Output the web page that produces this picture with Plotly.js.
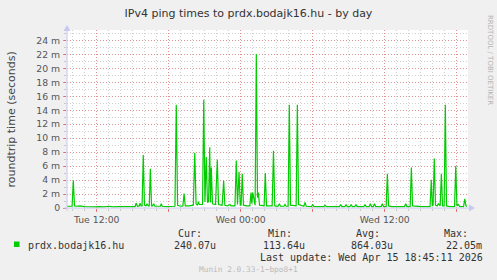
<!DOCTYPE html>
<html>
<head>
<meta charset="utf-8">
<script src="https://cdn.plot.ly/plotly-3.0.1.min.js"></script>
<style>html,body{margin:0;padding:0;background:#F0F0F0;}#chart{width:497px;height:280px;}</style>
</head>
<body>
<div id="chart"></div>
<script>
// time in hours since Tue 00:00, values in milliseconds
const times = [
  9.53, 9.8, 9.95, 10.05, 10.15, 10.3,
  10.6, 11.0, 11.4, 11.8, 12.2, 12.6, 13.0, 13.4, 13.8, 14.2, 14.6, 15.0,
  15.2, 15.28, 15.4, 15.55, 15.61, 15.7, 15.78, 15.88, 15.98, 16.1, 16.19, 16.3,
  16.38, 16.47, 16.57, 16.65, 16.75, 16.85, 17.1, 17.3, 17.38, 17.46, 17.8, 18.2,
  18.52, 18.63, 18.74, 19.0, 19.18, 19.28, 19.38, 19.7, 20.05, 20.17, 20.28,
  20.4, 20.47, 20.55, 20.82, 20.92, 21.02, 21.13, 21.23, 21.32, 21.42, 21.48, 21.55, 21.65,
  21.9, 22.05, 22.15, 22.45, 22.58, 22.68, 22.9, 23.11, 23.2,
  23.52, 23.63, 23.73, 23.86, 23.96, 24.03, 24.13, 24.23, 24.5,
  24.76, 24.86, 24.93, 25.0, 25.2, 25.3, 25.4, 25.47, 25.57, 25.95, 26.05, 26.15,
  26.62, 26.73, 26.84, 27.1, 27.22, 27.32, 27.6, 27.69, 27.78, 27.95, 28.05, 28.15,
  28.62, 28.72, 28.82, 29.26, 29.36, 29.46, 29.9, 30.0, 30.1, 30.5,
  30.93, 31.03, 31.13, 31.6, 32.0, 32.23, 32.33, 32.43, 32.68, 32.78, 32.88,
  33.1, 33.2, 33.3, 33.5, 33.6, 33.7, 34.0, 34.26, 34.36, 34.46, 34.7, 34.8, 34.9, 35.05, 35.15, 35.25,
  35.7, 35.8, 35.9, 36.12, 36.22, 36.32, 36.6, 37.0, 37.4, 37.65, 37.75, 37.85,
  38.12, 38.22, 38.32, 38.7, 39.1, 39.5, 39.78, 39.88, 39.96, 40.03, 40.13, 40.23,
  40.37, 40.47, 40.57, 40.62, 40.72, 40.82, 40.95, 41.05, 41.15, 41.4,
  41.82, 41.92, 42.02, 42.13, 42.25, 42.57, 42.67, 42.77, 42.86
];
const pingMs = [
  0.25, 0.2, 0.25, 3.95, 0.3, 0.25,
  0.3, 0.2, 0.15, 0.15, 0.2, 0.15, 0.25, 0.15, 0.2, 0.2, 0.15, 0.2,
  0.2, 0.7, 0.25, 0.3, 0.7, 0.3, 0.3, 7.6, 0.4, 0.3, 0.6, 0.3,
  0.3, 5.6, 0.3, 0.3, 0.6, 0.25, 0.2, 0.25, 0.6, 0.25, 0.2, 0.2,
  0.25, 14.8, 0.4, 0.25, 0.3, 2.05, 0.3, 0.3, 0.4, 7.9, 0.6,
  0.4, 0.9, 0.5, 0.5, 15.5, 0.9, 7.3, 0.8, 0.9, 8.7, 0.8, 5.8, 0.6,
  0.5, 6.9, 0.5, 0.4, 3.9, 0.4, 0.3, 0.5, 0.3,
  0.3, 6.8, 0.5, 5.2, 0.4, 0.4, 4.9, 0.4, 0.3,
  0.3, 2.2, 0.6, 2.2, 0.4, 22.05, 1.5, 2.2, 0.4, 0.3, 5.0, 0.3,
  0.3, 8.2, 0.3, 0.25, 0.6, 0.25, 0.25, 0.5, 0.25, 0.25, 14.8, 0.4,
  0.3, 14.8, 0.5, 0.25, 0.8, 0.25, 0.2, 0.5, 0.2, 0.2,
  0.2, 0.4, 0.2, 0.2, 0.2, 0.2, 0.5, 0.2, 0.2, 0.5, 0.2,
  0.2, 0.5, 0.2, 0.2, 0.5, 0.2, 0.2, 0.2, 0.5, 0.2, 0.2, 0.6, 0.2, 0.2, 0.6, 0.2,
  0.2, 0.6, 0.2, 0.2, 4.9, 0.3, 0.2, 0.2, 0.2, 0.2, 0.6, 0.2,
  0.2, 5.8, 0.3, 0.2, 0.2, 0.2, 0.2, 4.05, 0.3, 0.4, 7.1, 0.4,
  0.3, 0.6, 0.3, 0.3, 4.9, 0.3, 0.3, 14.8, 0.3, 0.2,
  0.2, 6.0, 0.3, 0.5, 0.2, 0.2, 1.3, 0.3, 0.24
];
const xTickVals = [12, 18, 24, 30, 36, 42];
const xTickText = ['Tue 12:00', '', 'Wed 00:00', '', 'Wed 12:00', ''];
const yTickVals = [0, 2, 4, 6, 8, 10, 12, 14, 16, 18, 20, 22, 24];
const yTickText = ['0', '2 m', '4 m', '6 m', '8 m', '10 m', '12 m', '14 m', '16 m', '18 m', '20 m', '22 m', '24 m'];
const seriesName = 'prdx.bodajk16.hu';
const statHeads = ['Cur:', 'Min:', 'Avg:', 'Max:'];
const statVals = ['240.07u', '113.64u', '864.03u', '22.05m'];
const lastUpdate = 'Last update: Wed Apr 15 18:45:11 2026';

const L = 67, R = 468, T = 30, B = 208;
const px = x => (x - L) / (R - L);
const py = y => (B - y) / (B - T);
const sans = 'DejaVu Sans';
const mono = 'DejaVu Sans Mono';
const axisCol = '#c8c8f0';
const majorGrid = 'rgba(255,0,0,0.3)';
const minorGrid = 'rgba(140,140,140,0.4)';

function txt(x, y, text, opts) {
  return Object.assign({xref: 'paper', yref: 'paper', x: px(x), y: py(y), text: text,
    showarrow: false, xanchor: 'left', yanchor: 'middle', borderpad: 0,
    font: {family: mono, size: 10, color: '#333'}}, opts || {});
}

const annotations = [
  txt(10.5, 120, 'roundtrip time (seconds)', {xanchor: 'center', textangle: -90, font: {family: sans, size: 11, color: '#444'}}),
  txt(490, 60, 'RRDTOOL / TOBI OETIKER', {xanchor: 'center', textangle: 90, font: {family: sans, size: 7, color: '#b4b4b4'}}),
  txt(26.5, 245, seriesName),
  txt(248.5, 269.3, 'Munin 2.0.33-1~bpo8+1', {xanchor: 'center', font: {family: mono, size: 7.8, color: '#bbb'}}),
  txt(483.5, 257.3, lastUpdate, {xanchor: 'right'})
];
const headX = [203.3, 292.7, 380.7, 469.3];
const valX = [217.3, 306, 394.3, 483.3];
statHeads.forEach((h, i) => annotations.push(txt(headX[i], 233.3, h, {xanchor: 'right'})));
statVals.forEach((v, i) => annotations.push(txt(valX[i], 245, v, {xanchor: 'right'})));

const shapes = [
  {type: 'line', xref: 'paper', yref: 'paper', x0: px(64), x1: px(470), y0: py(208), y1: py(208), line: {color: axisCol, width: 1}},
  {type: 'line', xref: 'paper', yref: 'paper', x0: px(67), x1: px(67), y0: py(211), y1: py(28), line: {color: axisCol, width: 1}},
  {type: 'path', xref: 'paper', yref: 'paper',
   path: `M${px(63.5)},${py(31)} L${px(70.5)},${py(31)} L${px(67)},${py(25)} Z`, fillcolor: axisCol, line: {width: 0}},
  {type: 'path', xref: 'paper', yref: 'paper',
   path: `M${px(469)},${py(204.5)} L${px(469)},${py(211.5)} L${px(475)},${py(208)} Z`, fillcolor: axisCol, line: {width: 0}},
  {type: 'rect', xref: 'paper', yref: 'paper', x0: px(14), x1: px(19.5), y0: py(247), y1: py(241.5), fillcolor: '#00cc00', line: {width: 0}}
];

const trace = {
  x: times, y: pingMs, type: 'scatter', mode: 'lines', name: seriesName,
  line: {color: '#00cc00', width: 1.2}, hoverinfo: 'skip'
};

const layout = {
  width: 497, height: 280,
  margin: {l: L, r: 497 - R, t: T, b: 280 - B, pad: 0},
  paper_bgcolor: '#F0F0F0', plot_bgcolor: '#FFFFFF',
  showlegend: false,
  title: {text: 'IPv4 ping times to prdx.bodajk16.hu - by day', x: 0.5, xanchor: 'center',
          y: 1 - 13.5 / 280, yanchor: 'middle', yref: 'container',
          font: {family: sans, size: 11, color: '#333'}},
  xaxis: {
    range: [9.525, 42.94], tickmode: 'array', tickvals: xTickVals, ticktext: xTickText,
    showgrid: true, gridcolor: majorGrid, griddash: '1px,2px', gridwidth: 1,
    zeroline: false, showline: false, ticks: 'outside', ticklen: 3, tickcolor: 'rgba(255,0,0,0.45)',
    tickfont: {family: sans, size: 9.3, color: '#555'},
    minor: {tickmode: 'linear', tick0: 0, dtick: 1, showgrid: true, gridcolor: minorGrid,
            griddash: '1px,2px', gridwidth: 1, ticks: 'outside', ticklen: 2, tickcolor: '#c8c8c8'},
    fixedrange: true
  },
  yaxis: {
    range: [0, 25.49], tickmode: 'array', tickvals: yTickVals, ticktext: yTickText,
    showgrid: true, gridcolor: majorGrid, griddash: '1px,2px', gridwidth: 1,
    zeroline: false, showline: false, ticks: 'outside', ticklen: 3, tickcolor: 'rgba(255,0,0,0.45)',
    ticklabelstandoff: 1,
    tickfont: {family: sans, size: 9.3, color: '#555'},
    minor: {tickmode: 'linear', tick0: 0, dtick: 1, showgrid: true, gridcolor: minorGrid,
            griddash: '1px,2px', gridwidth: 1, ticks: 'outside', ticklen: 2, tickcolor: '#c8c8c8'},
    fixedrange: true
  },
  annotations: annotations,
  shapes: shapes
};

Plotly.newPlot('chart', [trace], layout, {displayModeBar: false, staticPlot: true});
</script>
</body>
</html>
